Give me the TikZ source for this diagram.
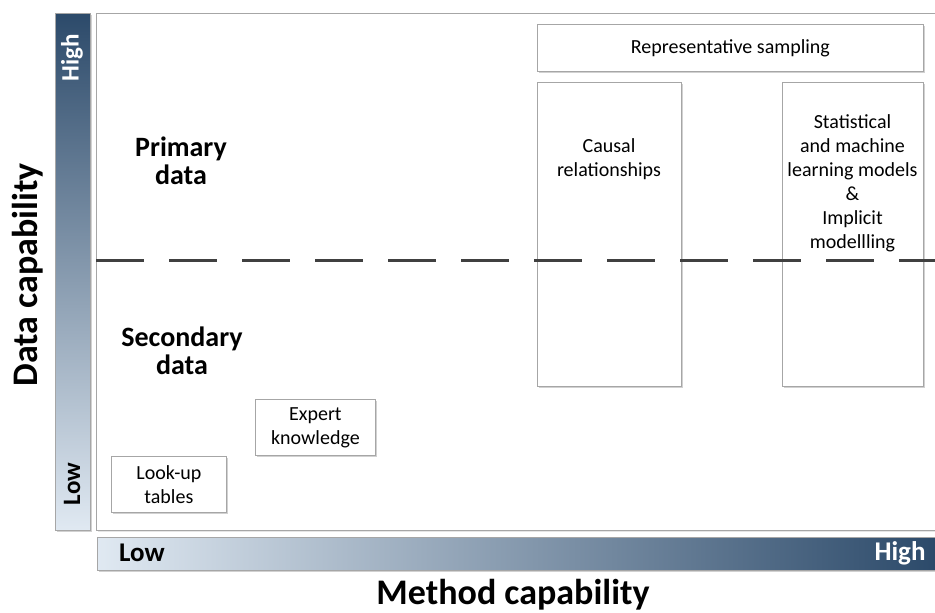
\documentclass[tikz,border=0pt]{standalone}
\usepackage{fontspec}
\setmainfont{Carlito}
\usetikzlibrary{shadows}
\definecolor{barDark}{HTML}{2C4A6A}
\definecolor{barLight}{HTML}{E0E9F2}
\definecolor{boxLine}{HTML}{A6A6A6}
\definecolor{dashGray}{HTML}{404040}
\tikzset{
  box/.style={draw=boxLine, fill=white, line width=0.8pt, inner sep=0pt, anchor=north west,
    drop shadow={shadow xshift=2pt, shadow yshift=-2pt, fill=black!18, opacity=1}},
  boxtext/.style={align=center, font=\fontsize{20}{24}\selectfont, inner sep=0pt},
  vbartext/.style={font=\bfseries\fontsize{25}{28}\selectfont, inner sep=0pt},
  hbartext/.style={font=\bfseries\fontsize{27}{30}\selectfont, inner sep=0pt},
  axistitle/.style={font=\bfseries\fontsize{36}{40}\selectfont, inner sep=0pt},
  zonetext/.style={align=center, font=\bfseries\fontsize{28}{28}\selectfont, inner sep=0pt}
}
\begin{document}
\begin{tikzpicture}[x=1pt,y=-1pt]
\useasboundingbox (0,0) rectangle (935,613);
% vertical bar
\node[draw=boxLine, top color=barDark, bottom color=barLight, minimum width=35pt, minimum height=517pt,
  inner sep=0pt, anchor=north west, drop shadow={shadow xshift=2pt, shadow yshift=-2pt, fill=black!18, opacity=1}] (vbar) at (55,13) {};
\node[vbartext, rotate=90, text=white] (vhigh) at (72,58) {High};
\node[vbartext, rotate=90] (vlow) at (72,484) {Low};
% frame
\node[draw=boxLine, fill=white, line width=0.8pt, minimum width=839pt, minimum height=517pt, inner sep=0pt, anchor=north west,
  drop shadow={shadow xshift=2pt, shadow yshift=-2pt, fill=black!10, opacity=1}] (frame) at (96,13) {};
% horizontal bar
\node[draw=boxLine, left color=barLight, right color=barDark, minimum width=838pt, minimum height=33pt,
  inner sep=0pt, anchor=north west, drop shadow={shadow xshift=2pt, shadow yshift=-2pt, fill=black!18, opacity=1}] (hbar) at (97,537) {};
\node[hbartext] (hlow) at (142,553) {Low};
\node[hbartext, text=white] (hhigh) at (900,553) {High};
% axis titles
\node[axistitle, rotate=90] (ytitle) at (28,275) {Data capability};
\node[axistitle] (xtitle) at (513,595) {Method capability};
% zones
\node[zonetext] (primary) at (181,161) {Primary\\data};
\node[zonetext] (secondary) at (182,351) {Secondary\\data};
% boxes
\node[box, minimum width=115pt, minimum height=56pt] (lookup) at (111,456) {};
\node[boxtext] (lookupt) at (lookup.center) {Look-up\\tables};
\node[box, minimum width=120pt, minimum height=56pt] (expert) at (255,399) {};
\node[boxtext] (expertt) at (expert.center) {Expert\\knowledge};
\node[box, minimum width=386pt, minimum height=47pt] (repr) at (537,24) {};
\node[boxtext] (reprt) at (repr.center) {Representative sampling};
\node[box, minimum width=144pt, minimum height=304pt] (causal) at (537,82) {};
\node[boxtext, anchor=center] (causalt) at (609,159) {Causal\\relationships};
\node[box, minimum width=141pt, minimum height=304pt] (stat) at (782,82) {};
\node[boxtext, anchor=center] (statt) at (852.5,183) {Statistical\\and machine\\learning models\\\&\\Implicit\\modellling};
% dashed divider
\coordinate (dl) at (96,260);
\coordinate (dr) at (935,260);
\draw[line width=3pt, dashGray, dash pattern=on 48pt off 25pt] (dl) -- (dr);
\end{tikzpicture}
\end{document}
